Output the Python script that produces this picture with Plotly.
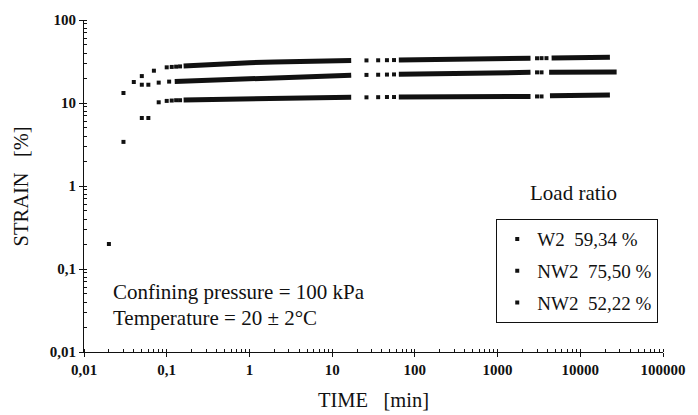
import plotly.graph_objects as go

# ---------------- data ----------------
series_names = ["NW2\u00a0\u00a075,50 %", "W2\u00a0\u00a059,34 %", "NW2\u00a0\u00a052,22 %"]
legend_order = [1, 0, 2]  # legend shows W2 59,34 first

# isolated points (early readings and points in the gaps)
top_sparse_t = [0.03, 0.05, 0.07, 0.10, 0.115, 0.13, 0.145, 26, 36, 46, 56, 3000, 3400, 3900]
top_sparse_s = [13.2, 21.1, 24.5, 26.9, 27.2, 27.4, 27.6, 32.6, 32.7, 32.8, 32.9, 34.6, 34.7, 34.7]

mid_sparse_t = [0.04, 0.05, 0.06, 0.08, 0.107, 26, 36, 46, 56, 3000, 3400]
mid_sparse_s = [17.9, 16.6, 16.6, 17.6, 18.1, 21.8, 21.9, 22.0, 22.1, 23.4, 23.4]

bot_sparse_t = [0.02, 0.03, 0.05, 0.06, 0.08, 0.10, 0.115, 0.13, 0.145, 26, 36, 46, 56, 3000, 3400]
bot_sparse_s = [0.2, 3.4, 6.6, 6.6, 10.2, 10.6, 10.7, 10.8, 10.8, 11.7, 11.75, 11.8, 11.8, 12.0, 12.0]

# densely sampled stretches (None marks a break in recording)
top_band_t = [0.16, 0.3, 0.6, 1, 2, 5, 10, 17, None, 64, 150, 400, 900, 2500, None, 4500, 8000, 15000, 22800]
top_band_s = [27.9, 29.0, 30.0, 30.6, 31.2, 31.9, 32.2, 32.4, None, 33.0, 33.5, 34.0, 34.2, 34.6, None, 34.8, 35.1, 35.3, 35.5]

mid_band_t = [0.125, 0.3, 0.6, 1, 2, 5, 10, 17, None, 64, 150, 400, 900, 2500, None, 4200, 8000, 15000, 27500]
mid_band_s = [18.2, 18.8, 19.3, 19.6, 20.2, 20.9, 21.3, 21.6, None, 22.2, 22.6, 23.0, 23.3, 23.4, None, 23.4, 23.5, 23.5, 23.6]

bot_band_t = [0.16, 0.3, 0.6, 1, 2, 5, 10, 17, None, 64, 150, 400, 900, 2500, None, 4300, 8000, 15000, 22800]
bot_band_s = [10.9, 11.0, 11.1, 11.1, 11.3, 11.5, 11.6, 11.7, None, 11.8, 11.8, 11.9, 11.9, 12.0, None, 12.2, 12.3, 12.4, 12.5]

x_tickvals = [0.01, 0.1, 1, 10, 100, 1000, 10000, 100000]
x_ticktext = ["0,01", "0,1", "1", "10", "100", "1000", "10000", "100000"]
y_tickvals = [0.01, 0.1, 1, 10, 100]
y_ticktext = ["0,01", "0,1", "1", "10", "100"]

# ---------------- figure ----------------
FONT = "Liberation Serif, Times New Roman, serif"
INK = "#111111"

sparse = [(top_sparse_t, top_sparse_s), (mid_sparse_t, mid_sparse_s), (bot_sparse_t, bot_sparse_s)]
bands = [(top_band_t, top_band_s), (mid_band_t, mid_band_s), (bot_band_t, bot_band_s)]

fig = go.Figure()
for i in range(3):
    bt, bs = bands[i]
    fig.add_trace(go.Scatter(
        x=bt, y=bs, mode="lines", connectgaps=False,
        line=dict(color=INK, width=5),
        legendgroup=f"g{i}", showlegend=False, hoverinfo="skip"))

for i in legend_order:
    st, ss = sparse[i]
    fig.add_trace(go.Scatter(
        x=st, y=ss, mode="markers", name=series_names[i],
        marker=dict(symbol="square", size=4, color=INK),
        legendgroup=f"g{i}"))

axis_common = dict(
    type="log", showline=True, linecolor=INK, linewidth=1, mirror=False,
    showgrid=False, zeroline=False, ticks="outside", ticklen=4, tickcolor=INK,
    tickfont=dict(family=FONT, size=15, color=INK, weight="bold"),
    minor=dict(ticks="inside", ticklen=3, tickcolor=INK, showgrid=False, dtick="D1"),
)

fig.update_xaxes(range=[-2, 5], tickmode="array", tickvals=x_tickvals,
                 ticktext=x_ticktext, **axis_common)
fig.update_yaxes(range=[-2, 2], tickmode="array", tickvals=y_tickvals,
                 ticktext=y_ticktext, **axis_common)

fig.update_layout(
    width=698, height=415,
    margin=dict(l=84, r=23, t=20, b=63),
    paper_bgcolor="white", plot_bgcolor="white",
    font=dict(family=FONT, color=INK),
    showlegend=True,
    legend=dict(
        x=0.712, y=0.40, xanchor="left", yanchor="top",
        bgcolor="white", bordercolor=INK, borderwidth=1,
        font=dict(family=FONT, size=19, color=INK),
        tracegroupgap=4, itemsizing="trace",
    ),
    annotations=[
        dict(text="Load ratio", x=0.845, y=0.479, xref="paper", yref="paper",
             xanchor="center", yanchor="middle", showarrow=False,
             font=dict(family=FONT, size=21, color=INK)),
        dict(text="Confining pressure = 100 kPa", x=0.047, y=0.181, xref="paper", yref="paper",
             xanchor="left", yanchor="middle", showarrow=False,
             font=dict(family=FONT, size=21, color=INK)),
        dict(text="Temperature = 20 ± 2°C", x=0.047, y=0.102, xref="paper", yref="paper",
             xanchor="left", yanchor="middle", showarrow=False,
             font=dict(family=FONT, size=21, color=INK)),
        dict(text="TIME\u00a0\u00a0\u00a0[min]", x=0.5, y=-0.145, xref="paper", yref="paper",
             xanchor="center", yanchor="middle", showarrow=False,
             font=dict(family=FONT, size=20.5, color=INK)),
        dict(text="STRAIN\u00a0\u00a0\u00a0[%]", x=-0.108, y=0.5, xref="paper", yref="paper",
             xanchor="center", yanchor="middle", showarrow=False, textangle=-90,
             font=dict(family=FONT, size=20.5, color=INK)),
    ],
)

fig.write_html("out.html")
